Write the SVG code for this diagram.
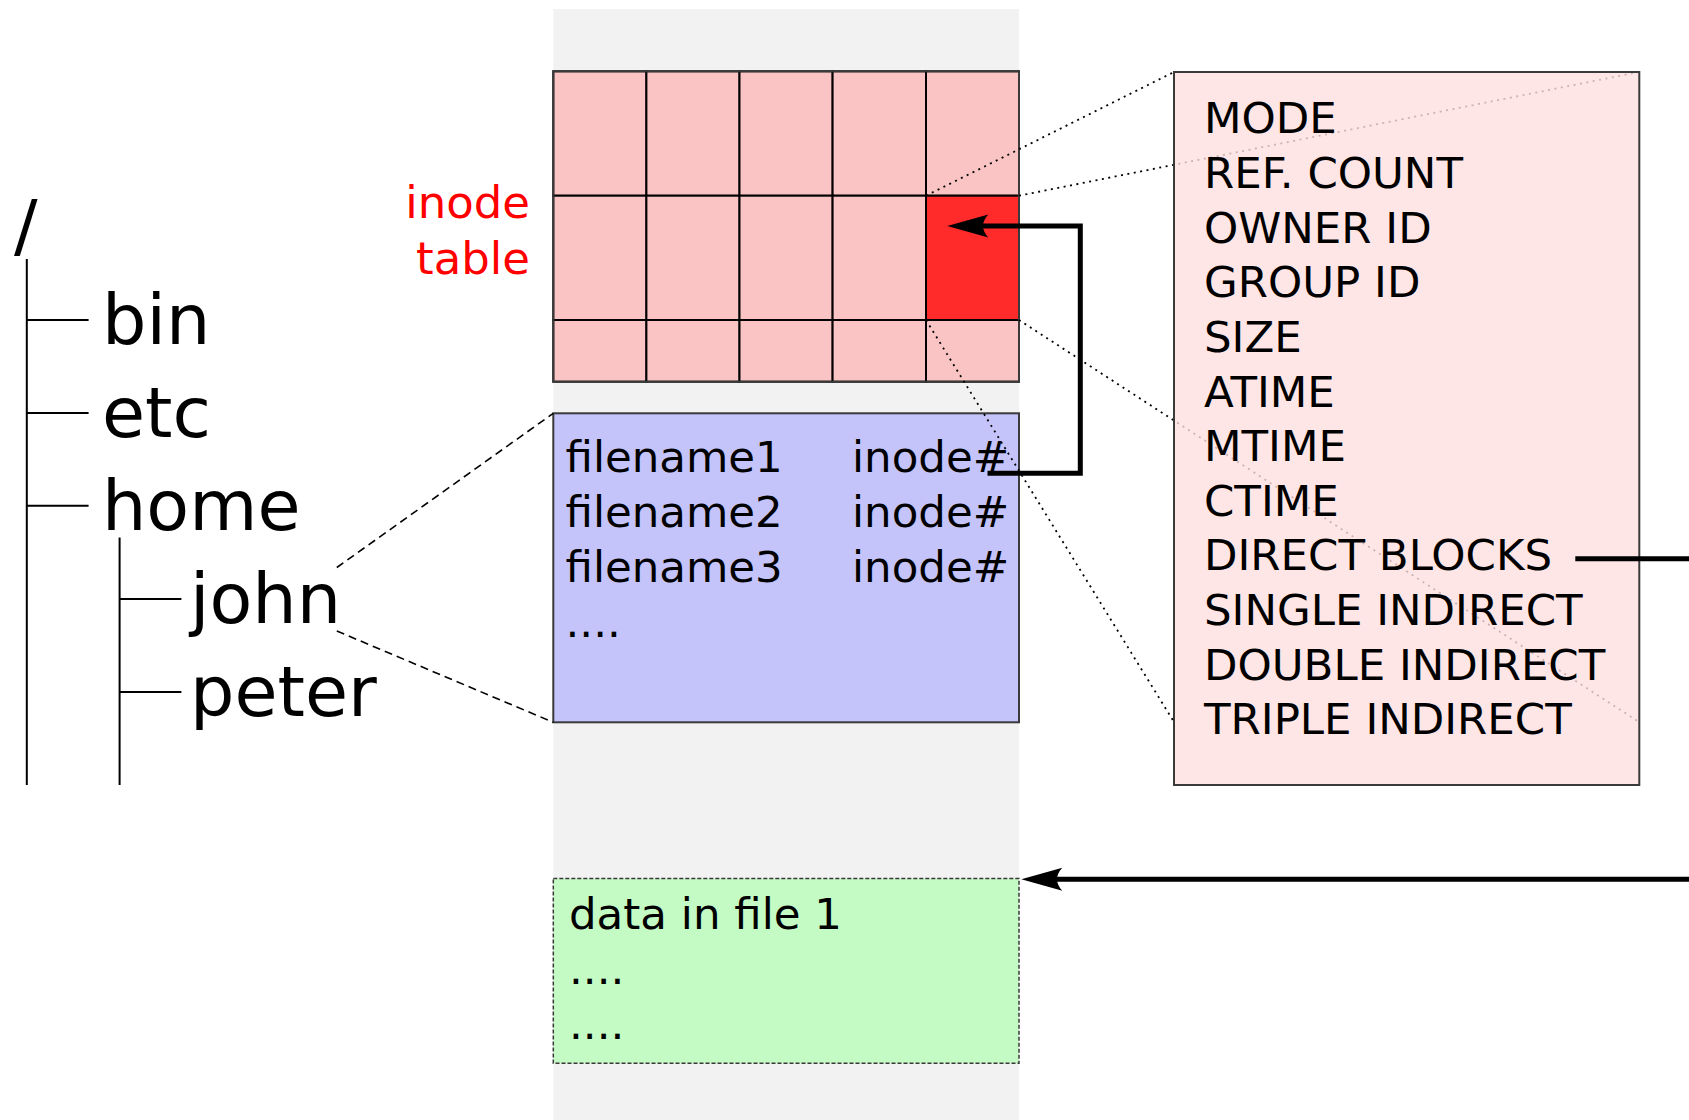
<svg xmlns="http://www.w3.org/2000/svg" width="1689" height="1120" viewBox="0 0 1689 1120">
  <style>
    text { font-family: "DejaVu Sans", "Liberation Sans", sans-serif; fill: #000; }
    .tree { font-size: 70px; }
    .body { font-size: 43.5px; }
    .label { font-size: 45px; fill: #ff0000; }
    .branch { stroke: #000; stroke-width: 2; fill: none; }
    .cell { fill: #fac4c4; stroke: #000; stroke-width: 2; }
    .frame { fill: none; stroke: #3a3a3a; stroke-width: 2; }
    .dots { stroke: #000; stroke-width: 1.8; stroke-dasharray: 2 4.5; fill: none; }
    .dash { stroke: #000; stroke-width: 1.6; stroke-dasharray: 8 5; fill: none; }
    .link { stroke: #000; stroke-width: 5; fill: none; }
  </style>
  <defs>
    <marker id="arrow" markerUnits="userSpaceOnUse" orient="auto" refX="0" refY="0" markerWidth="60" markerHeight="30" overflow="visible">
      <path d="M20,0 L-21,-11.5 C-14,-4 -14,4 -21,11.5 Z" fill="#000"/>
    </marker>
  </defs>

  <rect width="1689" height="1120" fill="#ffffff"/>

  <!-- disk area column -->
  <rect id="disk" x="553.3" y="9" width="465.7" height="1111" fill="#f2f2f2"/>

  <!-- directory tree -->
  <g id="tree">
    <text class="tree" x="14" y="250">/</text>
    <path class="branch" d="M26.8,259 V785 M26.8,320 H88.6 M26.8,413 H88.6 M26.8,505.7 H88.6 M119.6,537.6 V785 M119.6,599 H181.4 M119.6,692 H181.4"/>
    <text class="tree" x="102" y="344">bin</text>
    <text class="tree" x="102" y="437">etc</text>
    <text class="tree" x="102" y="529.5">home</text>
    <text class="tree" x="190" y="622.5">john</text>
    <text class="tree" x="190" y="716">peter</text>
  </g>

  <!-- inode table -->
  <g id="inode-table">
    <text class="label" x="530" y="218.4" text-anchor="end">inode</text>
    <text class="label" x="530" y="273.5" text-anchor="end">table</text>
    <g>
      <rect class="cell" x="553.3" y="71.3" width="93.1" height="124.4"/>
      <rect class="cell" x="646.4" y="71.3" width="93.1" height="124.4"/>
      <rect class="cell" x="739.5" y="71.3" width="93.1" height="124.4"/>
      <rect class="cell" x="832.6" y="71.3" width="93.4" height="124.4"/>
      <rect class="cell" x="926" y="71.3" width="93" height="124.4"/>
      <rect class="cell" x="553.3" y="195.7" width="93.1" height="124.3"/>
      <rect class="cell" x="646.4" y="195.7" width="93.1" height="124.3"/>
      <rect class="cell" x="739.5" y="195.7" width="93.1" height="124.3"/>
      <rect class="cell" x="832.6" y="195.7" width="93.4" height="124.3"/>
      <rect class="cell" x="926" y="195.7" width="93" height="124.3" style="fill:#ff2a2a"/>
      <rect class="cell" x="553.3" y="320" width="93.1" height="61.7"/>
      <rect class="cell" x="646.4" y="320" width="93.1" height="61.7"/>
      <rect class="cell" x="739.5" y="320" width="93.1" height="61.7"/>
      <rect class="cell" x="832.6" y="320" width="93.4" height="61.7"/>
      <rect class="cell" x="926" y="320" width="93" height="61.7"/>
    </g>
    <rect class="frame" x="553.3" y="71.3" width="465.7" height="310.4"/>
  </g>

  <!-- directory contents of john -->
  <g id="directory">
    <rect x="553.3" y="413.3" width="465.7" height="309" fill="#c4c4fa" stroke="#3a3a3a" stroke-width="2"/>
    <text class="body" x="565.5" y="471.7">filename1</text>
    <text class="body" x="852" y="471.7">inode#</text>
    <text class="body" x="565.5" y="526.7">filename2</text>
    <text class="body" x="852" y="526.7">inode#</text>
    <text class="body" x="565.5" y="581.7">filename3</text>
    <text class="body" x="852" y="581.7">inode#</text>
    <text class="body" x="565.5" y="636.7">....</text>
  </g>

  <!-- data block -->
  <g id="data-block">
    <rect x="553.3" y="878.5" width="465.7" height="184.8" fill="#c4fac4" stroke="#3a3a3a" stroke-width="1.5" stroke-dasharray="4 2"/>
    <text class="body" x="569" y="929.3">data in file 1</text>
    <text class="body" x="569" y="984">....</text>
    <text class="body" x="569" y="1038.7">....</text>
  </g>

  <!-- zoom guides that run behind the inode detail box -->
  <g id="guides-back">
    <path class="dots" d="M1019,195.7 L1639,72"/>
    <path class="dots" d="M1019,320 L1639,722"/>
  </g>

  <!-- inode detail -->
  <g id="inode-detail">
    <rect x="1174" y="72" width="465.3" height="713" fill="#ffe0e0" fill-opacity="0.8" stroke="#3a3a3a" stroke-width="2"/>
    <text class="body" x="1204" y="133.3">MODE</text>
    <text class="body" x="1204" y="187.9">REF. COUNT</text>
    <text class="body" x="1204" y="242.6">OWNER ID</text>
    <text class="body" x="1204" y="297.2">GROUP ID</text>
    <text class="body" x="1204" y="351.9">SIZE</text>
    <text class="body" x="1204" y="406.5">ATIME</text>
    <text class="body" x="1204" y="461.1">MTIME</text>
    <text class="body" x="1204" y="515.8">CTIME</text>
    <text class="body" x="1204" y="570.4">DIRECT BLOCKS</text>
    <text class="body" x="1204" y="625.1">SINGLE INDIRECT</text>
    <text class="body" x="1204" y="679.7">DOUBLE INDIRECT</text>
    <text class="body" x="1204" y="734.3">TRIPLE INDIRECT</text>
  </g>

  <!-- connectors -->
  <g id="connectors">
    <path class="dots" d="M926,195.7 L1174,72"/>
    <path class="dots" d="M926,320 L1174,722"/>
    <path class="dash" d="M336.8,567.5 L553.3,413.3"/>
    <path class="dash" d="M336.8,631 L553.3,722.3"/>
    <path class="link" d="M987.5,473.3 H1080.3 V226 H967.3" marker-end="url(#arrow)"/>
    <path class="link" d="M1575.3,558.7 H1720 V879.3 H1041.3" marker-end="url(#arrow)"/>
  </g>
</svg>
